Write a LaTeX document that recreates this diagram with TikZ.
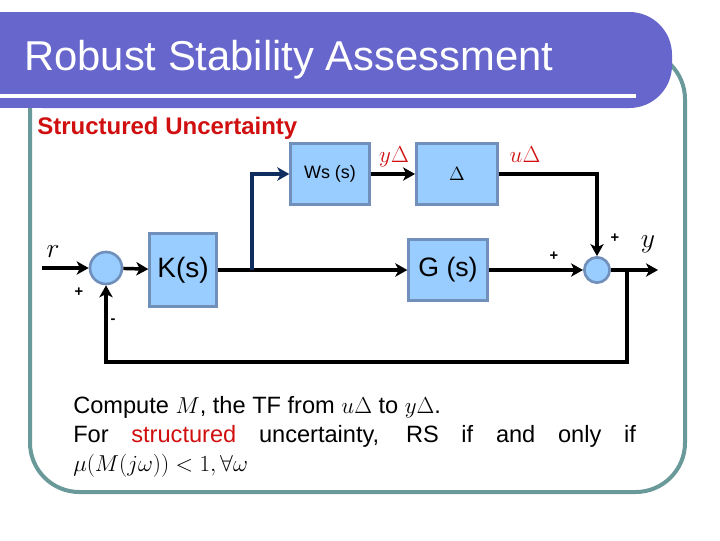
\documentclass[tikz,border=0pt]{standalone}
\usepackage{fontspec}
\setmainfont{Liberation Sans}
\usetikzlibrary{arrows.meta, positioning, calc}
\definecolor{BannerBlue}{HTML}{6666CC}
\definecolor{FrameTeal}{HTML}{6A9999}
\definecolor{BoxFill}{HTML}{99CCFF}
\definecolor{BoxLine}{HTML}{7090BB}
\definecolor{SigRed}{HTML}{D01010}
\definecolor{BranchNavy}{HTML}{0F2D5E}

\begin{document}
\begin{tikzpicture}[x=0.75pt, y=-0.75pt, >=Stealth,
        blk/.style={rectangle, draw=BoxLine, fill=BoxFill, line width=2pt, inner sep=0pt},
        sumpt/.style={circle, draw=BoxLine, fill=BoxFill, line width=2pt, inner sep=0pt},
        sig/.style={-{Stealth[length=9pt, width=10pt, inset=2.5pt]}, line width=2.6pt},
        sgn/.style={font=\fontsize{11}{13}\selectfont\bfseries, inner sep=0pt},
        lbl/.style={text=SigRed, font=\fontsize{16}{19}\selectfont, inner sep=0pt}
    ]
    \useasboundingbox (0,0) rectangle (720,540);

    % Frame and title banner
    \draw[FrameTeal, line width=3pt, rounded corners=37pt] (30,50) rectangle (685,492);
    \fill[BannerBlue, rounded corners=32pt] (0,12) rectangle (672,108);
    \fill[BannerBlue] (0,12) rectangle (300,108);
    \draw[white, line width=3pt] (0,96) -- (636,96);
    \node[anchor=base west, inner sep=0pt, text=white, font=\fontsize{31.3}{36}\selectfont] (title) at (24,70) {Robust Stability Assessment};
    \node[anchor=base west, inner sep=0pt, text=SigRed, font=\fontsize{18}{21}\selectfont\bfseries] (sub) at (37,134) {Structured Uncertainty};

    % Blocks
    \node[blk, minimum width=59pt, minimum height=46pt, font=\fontsize{13.5}{16}\selectfont] (ws) at (330,174) {Ws (s)};
    \node[blk, minimum width=61pt, minimum height=46pt, font=\fontsize{15}{18}\selectfont] (dl) at (457,174) {$\Delta$};
    \node[blk, minimum width=50pt, minimum height=55pt, font=\fontsize{21}{24}\selectfont] (k) at (183,270) {K(s)};
    \node[blk, minimum width=59pt, minimum height=46pt, font=\fontsize{20}{24}\selectfont] (g) at (448,270) {G (s)};
    \node[sumpt, minimum size=24pt] (sum1) at (106,268) {};
    \node[sumpt, minimum size=19pt] (sum2) at (597,270) {};

    % Free ends
    \coordinate (rin) at (42,268);
    \coordinate (br) at (252,270);
    \coordinate (fb) at (627,270);
    \coordinate (fbl) at (627,362);
    \coordinate (yout) at (658,270);

    % Signals
    \draw[sig] (rin) -- (sum1);
    \draw[sig] (sum1) -- (k);
    \draw[sig] (k) -- (g);
    \draw[sig, BranchNavy] (br) |- (ws);
    \draw[sig] (ws) -- (dl);
    \draw[sig] (dl.east) -| (sum2);
    \draw[sig] (g) -- (sum2);
    \draw[sig] (sum2) -- (yout);
    \draw[sig] (fb) -- (fbl) -| (sum1);

    % Signal names and signs
    \node[font=\fontsize{21}{24}\selectfont, inner sep=0pt] (rlbl) at (53,252) {$r$};
    \node[font=\fontsize{21}{24}\selectfont, inner sep=0pt] (ylbl) at (648,244) {$y$};
    \node[lbl] (ydl) at (394,157) {$y\Delta$};
    \node[lbl] (udl) at (525,155) {$u\Delta$};
    \node[sgn] (p1) at (79,292) {+};
    \node[sgn] (m1) at (113,321) {-};
    \node[sgn] (p2) at (554,256) {+};
    \node[sgn] (p3) at (615,238) {+};

    % Statement
    \node[anchor=north west, inner sep=0pt, text width=422pt, align=justify, font=\fontsize{17.7}{21.75}\selectfont] (txt) at (73,396) {Compute $M$, the TF from $u\Delta$ to $y\Delta$.\\
        For \textcolor{SigRed}{structured} uncertainty, RS if and only if\linebreak
        $\mu(M(j\omega))<1,\forall\omega$};
\end{tikzpicture}
\end{document}
